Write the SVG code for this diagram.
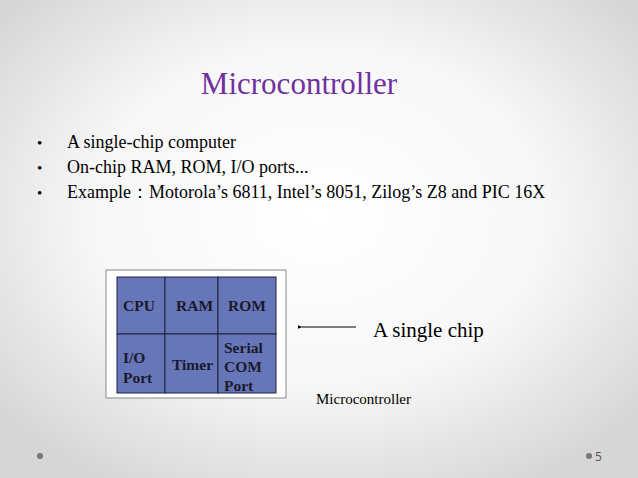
<svg xmlns="http://www.w3.org/2000/svg" width="638" height="478" viewBox="0 0 638 478">
<defs>
<radialGradient id="bg" cx="50%" cy="45%" r="65%">
<stop offset="0" stop-color="#ffffff"/>
<stop offset="0.55" stop-color="#f7f7f7"/>
<stop offset="1" stop-color="#d6d6d6"/>
</radialGradient>
<marker id="ah" viewBox="0 0 10 10" refX="1" refY="5" markerWidth="5" markerHeight="5" orient="auto">
<path d="M10,1 L0,5 L10,9 z" fill="#000"/>
</marker>
<style>
.t{font-family:"Liberation Serif","Times New Roman",serif;fill:#000}
.b{font-family:"Liberation Serif","Times New Roman",serif;font-weight:bold;font-size:15.5px;fill:#1a1a2a}
.cell{fill:#6676b9;stroke:#1f2340;stroke-width:1}
</style>
</defs>
<rect width="638" height="478" fill="url(#bg)"/>
<text class="t" x="299" y="94" font-size="31" style="fill:#7030a0" text-anchor="middle">Microcontroller</text>
<g class="t" font-size="18">
<text x="37" y="148" font-size="15">•</text><text x="67" y="148">A single-chip computer</text>
<text x="37" y="173" font-size="15">•</text><text x="67" y="173">On-chip RAM, ROM, I/O ports...</text>
<text x="37" y="198" font-size="15">•</text><text x="67" y="198">Example：Motorola’s 6811, Intel’s 8051, Zilog’s Z8 and PIC 16X</text>
</g>
<g id="chip">
<rect x="106" y="270" width="180" height="128" fill="#fff" stroke="#888" stroke-width="1"/>
<g id="cpu"><rect class="cell" x="117" y="277" width="48" height="57"/><text class="b" x="123" y="311">CPU</text></g>
<g id="ram"><rect class="cell" x="165" y="277" width="53" height="57"/><text class="b" x="176" y="311">RAM</text></g>
<g id="rom"><rect class="cell" x="218" y="277" width="58" height="57"/><text class="b" x="228" y="311">ROM</text></g>
<g id="io"><rect class="cell" x="117" y="334" width="48" height="59"/><text class="b" x="123" y="363">I/O</text><text class="b" x="123" y="383">Port</text></g>
<g id="timer"><rect class="cell" x="165" y="334" width="53" height="59"/><text class="b" x="172" y="370">Timer</text></g>
<g id="serial"><rect class="cell" x="218" y="334" width="58" height="59"/><text class="b" x="224" y="353">Serial</text><text class="b" x="224" y="372">COM</text><text class="b" x="224" y="391">Port</text></g>
</g>
<g id="connectors">
<line x1="356" y1="327" x2="302" y2="327" stroke="#000" stroke-width="1" marker-end="url(#ah)"/>
</g>
<text class="t" x="373" y="337" font-size="21">A single chip</text>
<text class="t" x="316" y="404" font-size="15">Microcontroller</text>
<circle cx="40" cy="456" r="3" fill="#777"/>
<circle cx="589" cy="456" r="3" fill="#777"/>
<text x="595" y="461" font-family="'Open Sans','Liberation Sans',sans-serif" font-size="12" fill="#555">5</text>
</svg>
